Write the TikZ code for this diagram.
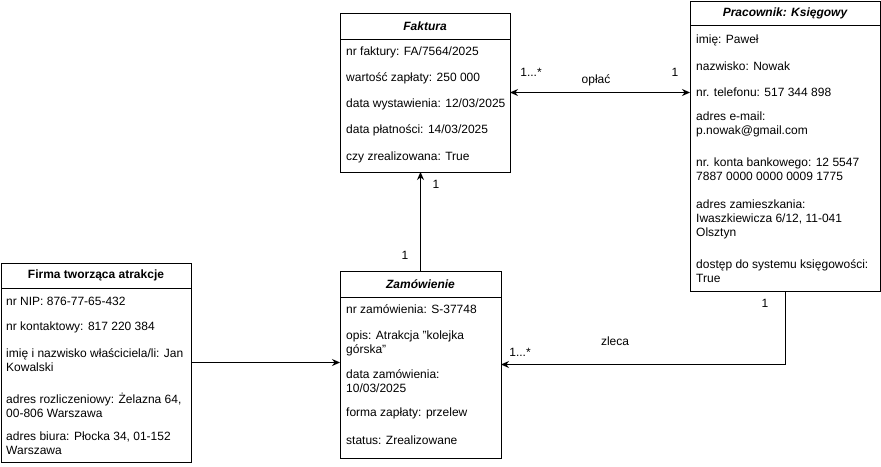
\documentclass[tikz,border=0pt]{standalone}
\usepackage{fontspec}
\setmainfont{Liberation Sans}
\usetikzlibrary{arrows.meta, positioning}
\tikzset{
  cls/.style={draw, line width=1pt, anchor=north west, inner sep=0pt, outer sep=0pt},
  attr/.style={anchor=west, align=left, inner sep=0pt, font=\fontsize{12}{14}\selectfont},
  title/.style={inner sep=0pt, font=\fontsize{12}{14}\selectfont\bfseries\itshape},
  lbl/.style={inner sep=0pt, font=\fontsize{12}{14}\selectfont},
  assoc/.style={line width=1pt, -{Stealth[length=8pt,width=7pt]}},
}

\begin{document}
\begin{tikzpicture}[x=1pt, y=-1pt]
\useasboundingbox (0,0) rectangle (881,466);

\node[cls, minimum width=170pt, minimum height=159pt] (faktura) at (340,13) {};
\node[title] at (faktura.north |- 0,26) {Faktura};
\draw[line width=1pt] (faktura.west |- 0,39) -- (faktura.east |- 0,39);
\node[attr] (fa1) at (346,52) {nr faktury: FA/7564/2025};
\node[attr] (fa2) at (346,78) {wartość zapłaty: 250 000};
\node[attr] (fa3) at (346,104) {data wystawienia: 12/03/2025};
\node[attr] (fa4) at (346,130) {data płatności: 14/03/2025};
\node[attr] (fa5) at (346,157) {czy zrealizowana: True};

\node[cls, minimum width=190pt, minimum height=290pt] (pracownik) at (690,1) {};
\node[title] at (pracownik.north |- 0,13) {Pracownik: Księgowy};
\draw[line width=1pt] (pracownik.west |- 0,25) -- (pracownik.east |- 0,25);
\node[attr] (pr1) at (696,40) {imię: Paweł};
\node[attr] (pr2) at (696,66) {nazwisko: Nowak};
\node[attr] (pr3) at (696,92) {nr. telefonu: 517 344 898};
\node[attr] (pr4) at (696,124.5) {adres e-mail:\\p.nowak@gmail.com};
\node[attr] (pr5) at (696,169.5) {nr. konta bankowego: 12 5547\\7887 0000 0000 0009 1775};
\node[attr] (pr6) at (696,219) {adres zamieszkania:\\Iwaszkiewicza 6/12, 11-041\\Olsztyn};
\node[attr] (pr7) at (696,271.5) {dostęp do systemu księgowości:\\True};

\node[cls, minimum width=190pt, minimum height=199pt] (firma) at (1,263) {};
\node[title, font=\fontsize{12}{14}\selectfont\bfseries] at (firma.north |- 0,275.5) {Firma tworząca atrakcje};
\draw[line width=1pt] (firma.west |- 0,288) -- (firma.east |- 0,288);
\node[attr] (fi1) at (6,301) {nr NIP: 876-77-65-432};
\node[attr] (fi2) at (6,327) {nr kontaktowy: 817 220 384};
\node[attr] (fi3) at (6,360) {imię i nazwisko właściciela/li: Jan\\Kowalski};
\node[attr] (fi4) at (6,405) {adres rozliczeniowy: Żelazna 64,\\00-806 Warszawa};
\node[attr] (fi5) at (6,443) {adres biura: Płocka 34, 01-152\\Warszawa};

\node[cls, minimum width=161pt, minimum height=187pt] (zamowienie) at (340,271) {};
\node[title] at (zamowienie.north |- 0,284) {Zamówienie};
\draw[line width=1pt] (zamowienie.west |- 0,297) -- (zamowienie.east |- 0,297);
\node[attr] (za1) at (346,309) {nr zamówienia: S-37748};
\node[attr] (za2) at (346,343.5) {opis: Atrakcja "kolejka\\górska"};
\node[attr] (za3) at (346,381.5) {data zamówienia:\\10/03/2025};
\node[attr] (za4) at (346,413) {forma zapłaty: przelew};
\node[attr] (za5) at (346,440) {status: Zrealizowane};

\draw[assoc, {Stealth[length=8pt,width=7pt]}-{Stealth[length=8pt,width=7pt]}] (faktura.east) -- (pracownik.west |- faktura.east);
\node[lbl] at (531,72) {1...*};
\node[lbl] at (675,72) {1};
\node[lbl] at (596,80) {opłać};

\draw[assoc] (zamowienie.north) -- (zamowienie.north |- faktura.south);
\node[lbl] at (436,184) {1};
\node[lbl] at (405,255) {1};

\draw[assoc] (firma.east) -- (firma.east -| zamowienie.west);

\draw[assoc] (pracownik.south) |- (zamowienie.east);
\node[lbl] at (765,303) {1};
\node[lbl] at (615,341) {zleca};
\node[lbl] at (520,352) {1...*};
\end{tikzpicture}
\end{document}
